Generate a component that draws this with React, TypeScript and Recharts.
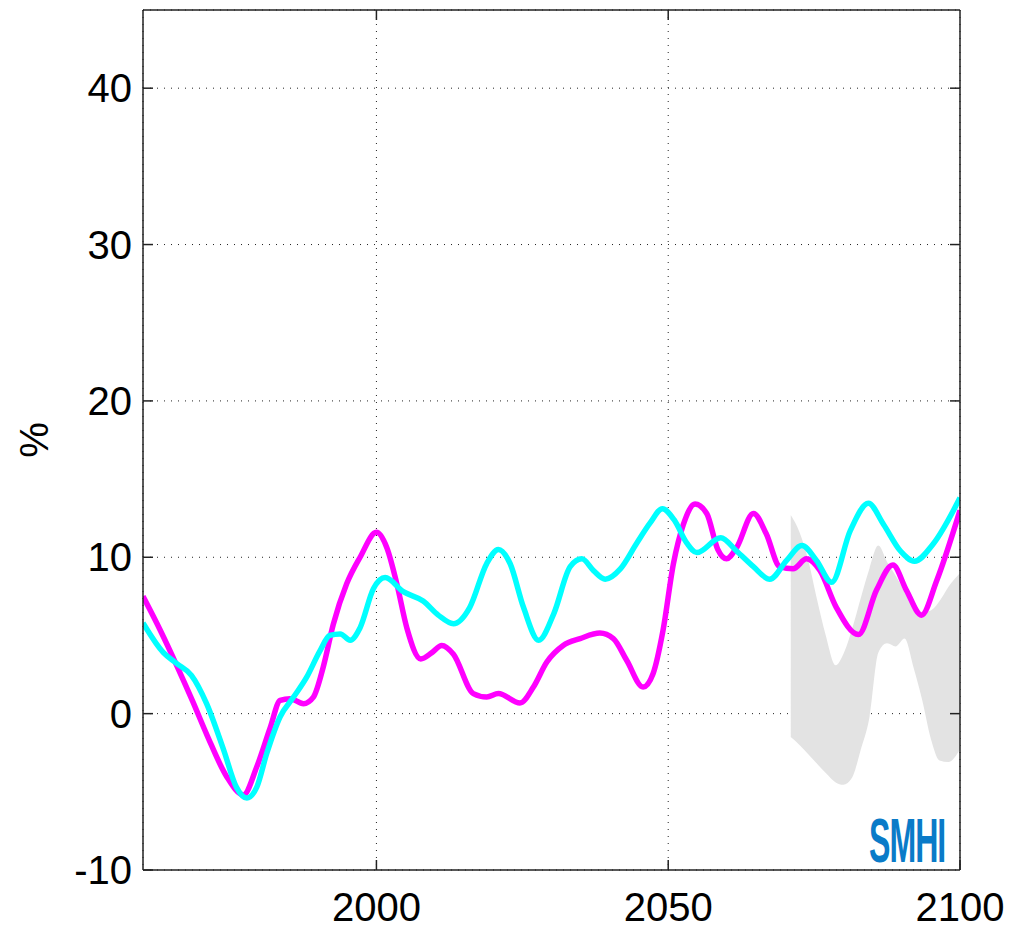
import React from "react";
import {
  ComposedChart,
  Line,
  Area,
  XAxis,
  YAxis,
  CartesianGrid,
} from "recharts";

// Magenta scenario curve (year, %)
const magentaYears = [
  1960, 1963, 1966, 1968.5, 1971, 1974.3, 1977.2, 1979.5, 1981.8, 1983.5,
  1985.2, 1987.5, 1989.2, 1990.9, 1992.6, 1994.9, 1997.2, 2000, 2001.8, 2003.5,
  2005.2, 2007.6, 2009.5, 2011.2, 2013.2, 2016.6, 2018.9, 2020.9, 2024.6, 2026.9,
  2029.2, 2032, 2034.9, 2038.3, 2040.6, 2042.9, 2045.7, 2047.4, 2049.1, 2050.9,
  2052.6, 2054.6, 2056.6, 2058.5, 2060, 2061.7, 2064.6, 2066.8, 2069.1, 2071.4,
  2073.7, 2076, 2078.8, 2082.6, 2085.7, 2088.5, 2090.8, 2093.4, 2096, 2100,
];
const magentaValues = [
  7.5, 5.3, 2.9, 0.8, -1.4, -4.0, -5.2, -3.4, -0.9, 0.85,
  0.96, 0.64, 1.06, 3.0, 5.7, 8.3, 10.0, 11.6, 10.6, 8.3,
  5.5, 3.5, 3.9, 4.36, 3.8, 1.28, 1.06, 1.28, 0.68, 1.7,
  3.3, 4.36, 4.8, 5.15, 4.8, 3.4, 1.7, 2.55, 5.3, 9.6,
  12.1, 13.4, 12.8, 10.5, 9.9, 10.6, 12.8, 11.5, 9.4, 9.26,
  9.9, 9.15, 6.8, 5.06, 7.9, 9.5, 7.9, 6.3, 8.5, 13.0,
];

// Cyan scenario curve (year, %)
const cyanYears = [
  1960, 1963.5, 1965.8, 1968.3, 1970.9, 1973.8, 1976, 1977.8, 1979.5, 1981.2,
  1983.5, 1985.8, 1988, 1990.3, 1992, 1993.8, 1995.5, 1997.2, 1999.5, 2001.5,
  2004.6, 2008, 2010.6, 2013.2, 2016, 2018.9, 2020.9, 2022.9, 2025.2, 2027.8,
  2030.4, 2033.2, 2035.2, 2037.2, 2039.2, 2041.8, 2044.6, 2046.9, 2049, 2051,
  2053.2, 2054.9, 2059, 2061.7, 2064.6, 2067.4, 2070.3, 2072.9, 2075.4, 2078,
  2081.2, 2084.3, 2086.9, 2089.8, 2092.2, 2095.4, 2100,
];
const cyanValues = [
  5.8, 3.9, 3.2, 2.45, 0.64, -2.3, -4.7, -5.4, -4.7, -2.55,
  -0.2, 1.06, 2.3, 4.0, 5.0, 5.1, 4.7, 5.5, 8.0, 8.7,
  7.8, 7.2, 6.3, 5.75, 6.8, 9.6, 10.5, 9.6, 6.8, 4.7,
  6.4, 9.4, 9.9, 9.15, 8.6, 9.26, 10.9, 12.2, 13.1, 12.4,
  10.9, 10.3, 11.25, 10.4, 9.4, 8.6, 9.8, 10.75, 9.8, 8.4,
  11.7, 13.45, 12.1, 10.4, 9.75, 10.85, 13.8,
];

// Spread band for the end of the century
const bandYears = [
  2071, 2072.5, 2074, 2075.5, 2077, 2078.7, 2080, 2081.5, 2083, 2084.5,
  2086, 2087.5, 2089, 2090.5, 2092, 2093.5, 2095, 2096.5, 2098, 2100,
];
const bandLow = [
  -1.5, -2.0, -2.6, -3.2, -3.8, -4.4, -4.55, -4.1, -2.3, -0.2,
  3.9, 4.5, 4.3, 4.8, 3.0, 0.9, -1.6, -3.0, -3.1, -2.3,
];
const bandHigh = [
  12.7, 11.6, 9.8, 7.3, 5.0, 3.1, 3.8, 5.4, 7.4, 9.3,
  10.75, 9.7, 8.8, 7.8, 6.9, 6.5, 6.6, 7.2, 8.1, 9.0,
];

const xTicks = [2000, 2050, 2100];
const yTicks = [-10, 0, 10, 20, 30, 40];

const magentaData = magentaYears.map((year, i) => ({ year, v: magentaValues[i] }));
const cyanData = cyanYears.map((year, i) => ({ year, v: cyanValues[i] }));
const bandData = bandYears.map((year, i) => ({ year, range: [bandLow[i], bandHigh[i]] }));

const FONT = "'Liberation Sans', Arial, Helvetica, sans-serif";
const FRAME = "#222";
const TICK_LEN = 10;

const LeftTick = (props: any) => {
  const { x, y, payload } = props;
  return (
    <g>
      <text x={x} y={y} textAnchor="end" dominantBaseline="central" fontSize={40} fill="#000" fontFamily={FONT}>
        {payload.value}
      </text>
      <line x1={x + 11} x2={x + 11 + TICK_LEN} y1={y} y2={y} stroke={FRAME} strokeWidth={1.5} />
    </g>
  );
};

const BottomTick = (props: any) => {
  const { x, y, payload } = props;
  const axisY = y - 51;
  return (
    <g>
      <text x={x} y={y} textAnchor="middle" fontSize={40} fill="#000" fontFamily={FONT}>
        {payload.value}
      </text>
      <line x1={x} x2={x} y1={axisY} y2={axisY - TICK_LEN} stroke={FRAME} strokeWidth={1.5} />
    </g>
  );
};

const TopTick = (props: any) => {
  const { x, y } = props;
  return <line x1={x} x2={x} y1={y} y2={y + TICK_LEN} stroke={FRAME} strokeWidth={1.5} />;
};

const RightTick = (props: any) => {
  const { x, y } = props;
  return <line x1={x - TICK_LEN} x2={x} y1={y} y2={y} stroke={FRAME} strokeWidth={1.5} />;
};

const PercentLabel = (props: any) => {
  const { viewBox } = props;
  const cy = viewBox.y + viewBox.height / 2;
  return (
    <text
      x={34}
      y={cy}
      transform={`rotate(-90 34 ${cy})`}
      textAnchor="middle"
      dominantBaseline="central"
      fontSize={40}
      fontFamily={FONT}
      fill="#000"
    >
      %
    </text>
  );
};

export default function App() {
  return (
    <div style={{ position: "absolute", left: 0, top: 0, width: 1009, height: 928, background: "#fff" }}>
      <ComposedChart width={1009} height={928} margin={{ top: 9, right: 48, bottom: 0, left: 0 }}>
        <CartesianGrid stroke="#222" strokeDasharray="1 6" />
        <XAxis
          dataKey="year"
          type="number"
          domain={[1960, 2100]}
          allowDataOverflow
          ticks={xTicks}
          height={58}
          tickSize={0}
          tickMargin={51}
          tickLine={false}
          axisLine={{ stroke: FRAME, strokeWidth: 1.5 }}
          tick={<BottomTick />}
          interval={0}
        />
        <XAxis
          xAxisId="top"
          orientation="top"
          dataKey="year"
          type="number"
          domain={[1960, 2100]}
          allowDataOverflow
          ticks={[2000, 2050]}
          height={1}
          tickSize={0}
          tickMargin={0}
          tickLine={false}
          axisLine={{ stroke: FRAME, strokeWidth: 1.5 }}
          tick={<TopTick />}
          interval={0}
        />
        <YAxis
          type="number"
          domain={[-10, 45]}
          allowDataOverflow
          ticks={yTicks}
          width={143}
          tickSize={0}
          tickMargin={11}
          tickLine={false}
          axisLine={{ stroke: FRAME, strokeWidth: 1.5 }}
          tick={<LeftTick />}
          interval={0}
          label={<PercentLabel />}
        />
        <YAxis
          yAxisId="right"
          orientation="right"
          type="number"
          domain={[-10, 45]}
          allowDataOverflow
          ticks={[0, 10, 20, 30, 40]}
          width={1}
          tickSize={0}
          tickMargin={0}
          tickLine={false}
          axisLine={{ stroke: FRAME, strokeWidth: 1.5 }}
          tick={<RightTick />}
          interval={0}
        />
        <Area
          data={bandData}
          dataKey="range"
          type="monotone"
          stroke="none"
          fill="#e3e3e3"
          fillOpacity={1}
          isAnimationActive={false}
        />
        <Line
          data={magentaData}
          dataKey="v"
          type="monotone"
          stroke="#ff00ff"
          strokeWidth={5.5}
          dot={false}
          activeDot={false}
          isAnimationActive={false}
        />
        <Line
          data={cyanData}
          dataKey="v"
          type="monotone"
          stroke="#00ffff"
          strokeWidth={5.5}
          dot={false}
          activeDot={false}
          isAnimationActive={false}
        />
      </ComposedChart>
      {/* SMHI logo in the lower right corner of the plot, squeezed horizontally */}
      <svg
        width={200}
        height={80}
        style={{ position: "absolute", left: 800, top: 790, overflow: "visible" }}
      >
        <g transform="translate(69 72) scale(0.51 1)">
          <text x={0} y={0} fontSize={63} fontWeight="bold" fontFamily={FONT} fill="#0a7bc8" letterSpacing={-2}>
            SMHI
          </text>
        </g>
      </svg>
    </div>
  );
}
